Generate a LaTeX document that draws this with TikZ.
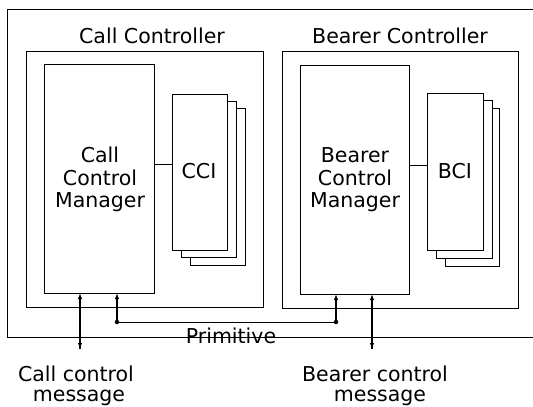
\documentclass[tikz,border=0pt]{standalone}
\usepackage{fontspec}
\setmainfont{DejaVu Sans}
\usetikzlibrary{arrows.meta}
\begin{document}
\begin{tikzpicture}[x=1pt,y=-1pt,
  box/.style={draw=black,line width=0.9pt},
  lbl/.style={anchor=base,inner sep=0pt,font=\fontsize{20.5pt}{23pt}\selectfont},
  sig/.style={line width=1.4pt},
  tip/.style={-{Latex[length=6pt,width=4.5pt]}},
  dot/.style={circle,fill=black,inner sep=0pt,minimum size=4.5pt}]
\useasboundingbox (0,0) rectangle (533,407);
% outer frame (open on the right)
\coordinate (oTR) at (533,9);
\coordinate (oTL) at (7,9);
\coordinate (oBL) at (7,337);
\coordinate (oBR) at (533,337);
\draw[box] (oTR) -- (oTL) -- (oBL) -- (oBR);
% controllers
\draw[box] (26,51) rectangle (263,307);
\draw[box] (282,51) rectangle (518,308);
\node[lbl] (tcc) at (152,43.5) {Call Controller};
\node[lbl] (tbc) at (400,43.5) {Bearer Controller};
% managers
\node[box,inner sep=0pt,outer sep=0pt,minimum width=110pt,minimum height=229pt] (ccm) at (99,178.5) {};
\node[box,inner sep=0pt,outer sep=0pt,minimum width=109pt,minimum height=229pt] (bcm) at (354.5,179.5) {};
\node[lbl] (ccm1) at (100,162) {Call};
\node[lbl] (ccm2) at (100,185) {Control};
\node[lbl] (ccm3) at (100,207) {Manager};
\node[lbl] (bcm1) at (355,162) {Bearer};
\node[lbl] (bcm2) at (355,185) {Control};
\node[lbl] (bcm3) at (355,207) {Manager};
% CCI stack
\draw[box,fill=white] (190,108) rectangle (245,265);
\draw[box,fill=white] (181,101) rectangle (236,257);
\node[box,fill=white,inner sep=0pt,outer sep=0pt,minimum width=55pt,minimum height=156pt] (cci) at (199.5,172) {};
\node[lbl] (ccit) at (199,178) {CCI};
% BCI stack
\draw[box,fill=white] (445,108) rectangle (499,266);
\draw[box,fill=white] (436,100) rectangle (492,258);
\node[box,fill=white,inner sep=0pt,outer sep=0pt,minimum width=56pt,minimum height=157pt] (bci) at (455,171.5) {};
\node[lbl] (bcit) at (455,178) {BCI};
% manager - instance links
\draw[box] (ccm.east |- 0,164) -- (cci.west |- 0,164);
\draw[box] (bcm.east |- 0,165) -- (bci.west |- 0,165);
% external messages
\coordinate (cm) at (80,349);
\coordinate (bm) at (372,349);
\draw[sig,tip] (80,298) -- (cm);
\draw[sig,tip] (cm) -- (ccm.south -| cm);
\draw[sig,tip] (bm) -- (bcm.south -| bm);
\draw[sig,tip] (372,300) -- (bm);
% primitive path
\node[dot] (p1) at (117,322) {};
\node[dot] (p2) at (336,322) {};
\draw[box] (p1) -- (p2);
\draw[sig,tip] (p1.center) -- (ccm.south -| p1);
\draw[sig,tip] (p2.center) -- (bcm.south -| p2);
\node[lbl] (prim) at (231,343) {Primitive};
% bottom labels
\node[lbl] (cl1) at (76,381) {Call control};
\node[lbl] (cl2) at (79,401) {message};
\node[lbl] (bl1) at (375,381) {Bearer control};
\node[lbl] (bl2) at (380,401) {message};
\end{tikzpicture}
\end{document}
